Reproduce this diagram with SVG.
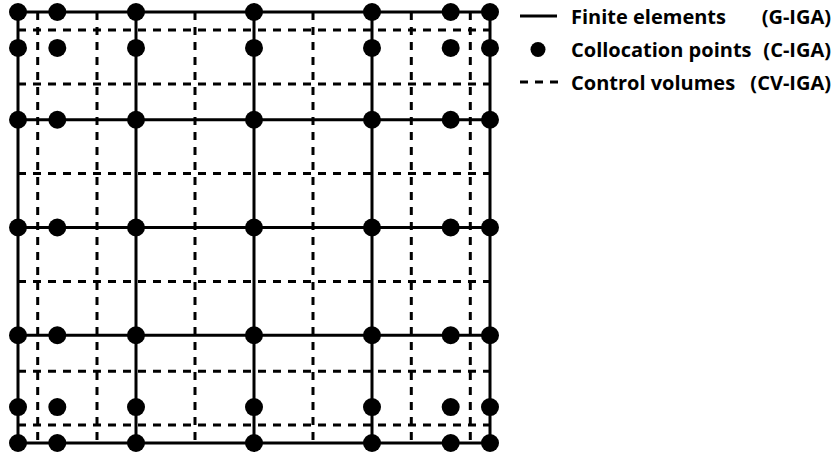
<svg xmlns="http://www.w3.org/2000/svg" width="835" height="457" viewBox="0 0 835 457">
<style>
.solid{stroke:#000;stroke-width:3;fill:none}
.dash{stroke:#000;stroke-width:3;fill:none;stroke-dasharray:8 7}
.pt{fill:#000}
.lbl{font-family:"Open Sans","DejaVu Sans",sans-serif;font-weight:700;font-size:20px;fill:#000}
</style>
<rect width="835" height="457" fill="#fff"/>
<g id="control-volumes">
<path class="dash" d="M18 30H490M18 84H490M18 173.6H490M18 281.4H490M18 371.2H490M18 425H490"/>
<path class="dash" d="M37.7 12V443M97 12V443M195 12V443M313 12V443M411.3 12V443M470.3 12V443"/>
</g>
<g id="finite-elements">
<path class="solid" d="M18 12H490M18 119.75H490M18 227.5H490M18 335.25H490M18 443H490"/>
<path class="solid" d="M18 12V443M136 12V443M254 12V443M372 12V443M490 12V443"/>
</g>
<g id="collocation-points">
<g id="row1"><circle class="pt" cx="18" cy="12" r="9"/><circle class="pt" cx="57.3" cy="12" r="9"/><circle class="pt" cx="136" cy="12" r="9"/><circle class="pt" cx="254" cy="12" r="9"/><circle class="pt" cx="372" cy="12" r="9"/><circle class="pt" cx="450.7" cy="12" r="9"/><circle class="pt" cx="490" cy="12" r="9"/></g>
<g id="row2"><circle class="pt" cx="18" cy="47.9" r="9"/><circle class="pt" cx="57.3" cy="47.9" r="9"/><circle class="pt" cx="136" cy="47.9" r="9"/><circle class="pt" cx="254" cy="47.9" r="9"/><circle class="pt" cx="372" cy="47.9" r="9"/><circle class="pt" cx="450.7" cy="47.9" r="9"/><circle class="pt" cx="490" cy="47.9" r="9"/></g>
<g id="row3"><circle class="pt" cx="18" cy="119.75" r="9"/><circle class="pt" cx="57.3" cy="119.75" r="9"/><circle class="pt" cx="136" cy="119.75" r="9"/><circle class="pt" cx="254" cy="119.75" r="9"/><circle class="pt" cx="372" cy="119.75" r="9"/><circle class="pt" cx="450.7" cy="119.75" r="9"/><circle class="pt" cx="490" cy="119.75" r="9"/></g>
<g id="row4"><circle class="pt" cx="18" cy="227.5" r="9"/><circle class="pt" cx="57.3" cy="227.5" r="9"/><circle class="pt" cx="136" cy="227.5" r="9"/><circle class="pt" cx="254" cy="227.5" r="9"/><circle class="pt" cx="372" cy="227.5" r="9"/><circle class="pt" cx="450.7" cy="227.5" r="9"/><circle class="pt" cx="490" cy="227.5" r="9"/></g>
<g id="row5"><circle class="pt" cx="18" cy="335.25" r="9"/><circle class="pt" cx="57.3" cy="335.25" r="9"/><circle class="pt" cx="136" cy="335.25" r="9"/><circle class="pt" cx="254" cy="335.25" r="9"/><circle class="pt" cx="372" cy="335.25" r="9"/><circle class="pt" cx="450.7" cy="335.25" r="9"/><circle class="pt" cx="490" cy="335.25" r="9"/></g>
<g id="row6"><circle class="pt" cx="18" cy="407.1" r="9"/><circle class="pt" cx="57.3" cy="407.1" r="9"/><circle class="pt" cx="136" cy="407.1" r="9"/><circle class="pt" cx="254" cy="407.1" r="9"/><circle class="pt" cx="372" cy="407.1" r="9"/><circle class="pt" cx="450.7" cy="407.1" r="9"/><circle class="pt" cx="490" cy="407.1" r="9"/></g>
<g id="row7"><circle class="pt" cx="18" cy="443" r="9"/><circle class="pt" cx="57.3" cy="443" r="9"/><circle class="pt" cx="136" cy="443" r="9"/><circle class="pt" cx="254" cy="443" r="9"/><circle class="pt" cx="372" cy="443" r="9"/><circle class="pt" cx="450.7" cy="443" r="9"/><circle class="pt" cx="490" cy="443" r="9"/></g>
</g>
<g id="legend">
<g id="legend-fe"><path class="solid" d="M520 16H557"/><text class="lbl" x="571" y="24">Finite elements</text><text class="lbl" x="831" y="24" text-anchor="end">(G-IGA)</text></g>
<g id="legend-cp"><circle class="pt" cx="538" cy="49.5" r="7.5"/><text class="lbl" x="571" y="57">Collocation points</text><text class="lbl" x="831" y="57" text-anchor="end">(C-IGA)</text></g>
<g id="legend-cv"><path class="solid" d="M520 82H558" stroke-dasharray="8 7"/><text class="lbl" x="571" y="90">Control volumes</text><text class="lbl" x="831" y="90" text-anchor="end">(CV-IGA)</text></g>
</g>
</svg>
